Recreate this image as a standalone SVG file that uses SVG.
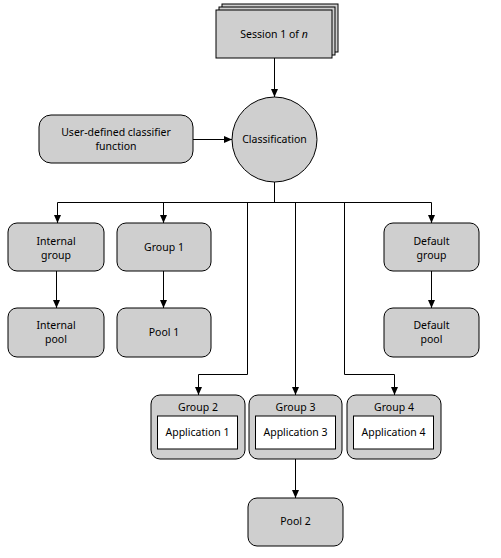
<svg xmlns="http://www.w3.org/2000/svg" width="501" height="558" viewBox="0 0 501 558">
<defs>
<marker id="ah" markerWidth="8" markerHeight="8" refX="8" refY="4" orient="auto" markerUnits="userSpaceOnUse">
<path d="M0,0.5 L8,4 L0,7.5 Z" fill="#000"/>
</marker>
<style>
.n{fill:#cfcfcf;stroke:#000;stroke-width:1}
.w{fill:#fff;stroke:#000;stroke-width:1}
.t{font-family:"Noto Sans","Liberation Sans",sans-serif;font-size:10.5px;fill:#000;text-anchor:middle;dominant-baseline:central}
.c{fill:none;stroke:#000;stroke-width:1}
</style>
</defs>
<rect width="501" height="558" fill="#fff"/>
<g id="session">
<rect class="n" x="222" y="4" width="116" height="48"/>
<rect class="n" x="219" y="7" width="116" height="48"/>
<rect class="n" x="216" y="10" width="116" height="48"/>
<text class="t" x="274" y="34">Session 1 of <tspan font-style="italic">n</tspan></text>
</g>
<g id="classification">
<circle class="n" cx="274.5" cy="139.5" r="42.5"/>
<text class="t" x="274.5" y="139">Classification</text>
</g>
<g id="classifier">
<rect class="n" x="39" y="115" width="154" height="48" rx="12"/>
<text class="t" x="116" y="132">User-defined classifier</text>
<text class="t" x="116" y="146">function</text>
</g>
<g id="internal-group">
<rect class="n" x="8" y="223" width="96" height="48" rx="9"/>
<text class="t" x="56" y="241">Internal</text>
<text class="t" x="56" y="255">group</text>
</g>
<g id="group1">
<rect class="n" x="117" y="223" width="94" height="48" rx="9"/>
<text class="t" x="164" y="247">Group 1</text>
</g>
<g id="default-group">
<rect class="n" x="384" y="223" width="95" height="48" rx="9"/>
<text class="t" x="431.5" y="241">Default</text>
<text class="t" x="431.5" y="255">group</text>
</g>
<g id="internal-pool">
<rect class="n" x="8" y="308" width="96" height="49" rx="9"/>
<text class="t" x="56" y="325">Internal</text>
<text class="t" x="56" y="339">pool</text>
</g>
<g id="pool1">
<rect class="n" x="117" y="308" width="94" height="49" rx="9"/>
<text class="t" x="164" y="332">Pool 1</text>
</g>
<g id="default-pool">
<rect class="n" x="384" y="308" width="95" height="49" rx="9"/>
<text class="t" x="431.5" y="325">Default</text>
<text class="t" x="431.5" y="339">pool</text>
</g>
<g id="group2">
<rect class="n" x="151" y="395" width="94" height="64" rx="9"/>
<text class="t" x="198" y="407">Group 2</text>
<rect class="w" x="157.5" y="416" width="80" height="33"/>
<text class="t" x="197.5" y="432">Application 1</text>
</g>
<g id="group3">
<rect class="n" x="249" y="395" width="93" height="64" rx="9"/>
<text class="t" x="295.5" y="407">Group 3</text>
<rect class="w" x="255.5" y="416" width="80" height="33"/>
<text class="t" x="295.5" y="432">Application 3</text>
</g>
<g id="group4">
<rect class="n" x="347" y="395" width="94" height="64" rx="9"/>
<text class="t" x="394" y="407">Group 4</text>
<rect class="w" x="353.5" y="416" width="80" height="33"/>
<text class="t" x="393.5" y="432">Application 4</text>
</g>
<g id="pool2">
<rect class="n" x="248" y="498" width="95" height="48" rx="9"/>
<text class="t" x="295.5" y="521">Pool 2</text>
</g>
<g id="connectors">
<path class="c" d="M274.5,58 V97" marker-end="url(#ah)"/>
<path class="c" d="M193,139.5 H232" marker-end="url(#ah)"/>
<path class="c" d="M274.5,182 V202.5"/>
<path class="c" d="M57.5,202.5 H431.5"/>
<path class="c" d="M57.5,202.5 V223" marker-end="url(#ah)"/>
<path class="c" d="M163.5,202.5 V223" marker-end="url(#ah)"/>
<path class="c" d="M431.5,202.5 V223" marker-end="url(#ah)"/>
<path class="c" d="M56.5,271 V308" marker-end="url(#ah)"/>
<path class="c" d="M163.5,271 V308" marker-end="url(#ah)"/>
<path class="c" d="M431.5,271 V308" marker-end="url(#ah)"/>
<path class="c" d="M247.5,202.5 V374.5 H198.5 V395" marker-end="url(#ah)"/>
<path class="c" d="M295.5,202.5 V395" marker-end="url(#ah)"/>
<path class="c" d="M344.5,202.5 V374.5 H394.5 V395" marker-end="url(#ah)"/>
<path class="c" d="M295.5,459 V498" marker-end="url(#ah)"/>
</g>
</svg>
